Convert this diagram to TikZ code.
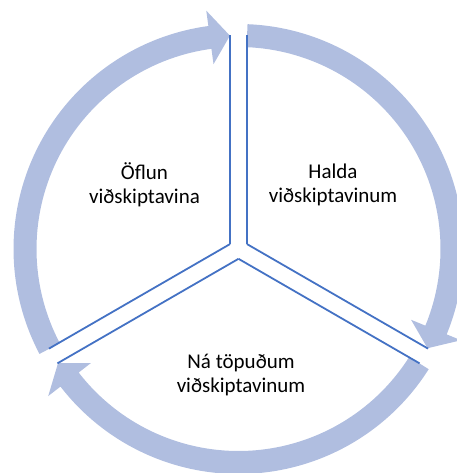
\documentclass[tikz,border=0pt]{standalone}
\usepackage{fontspec}
\setmainfont{Carlito}
\definecolor{ringblue}{RGB}{176,190,224}
\definecolor{lineblue}{RGB}{68,114,196}
\begin{document}
\begin{tikzpicture}[x=1pt,y=1pt,
  ring/.style={fill=ringblue,draw=none},
  divider/.style={draw=lineblue,line width=1.8pt},
  label/.style={align=center,font=\fontsize{21}{24}\selectfont,text=black,inner sep=0pt}]
\useasboundingbox (0,0) rectangle (456,473);
\begin{scope}[shift={(238.5,224)}]
  % ring arcs with arrowheads
  \def\rr{213.5}\def\Ro{225}\def\Ri{202}\def\Ho{240.5}\def\Hi{186.5}
  \foreach \s/\t in {207.8/92.3, 87.7/-27.7, -32.3/-147.7}{
    \pgfmathsetmacro\b{\t+5.4}
    \fill[ringblue] (\s:\Ro) arc[start angle=\s, end angle=\b, radius=\Ro]
      -- (\b:\Ho) -- (\t:\rr) -- (\b:\Hi)
      -- (\b:\Ri) arc[start angle=\b, end angle=\s, radius=\Ri] -- cycle;
  }
  % dividers
  \foreach \p in {90,210,330}{
    \draw[divider] (\p+60:9.815) -- (\p+2.275:214.17);
    \draw[divider] (\p-60:9.815) -- (\p-2.275:214.17);
  }
\end{scope}
\node[label] (acq) at (144.5,288) {Öflun\\viðskiptavina};
\node[label] (keep) at (333,288) {Halda\\viðskiptavinum};
\node[label] (win) at (241,98) {Ná töpuðum\\viðskiptavinum};
\end{tikzpicture}
\end{document}
